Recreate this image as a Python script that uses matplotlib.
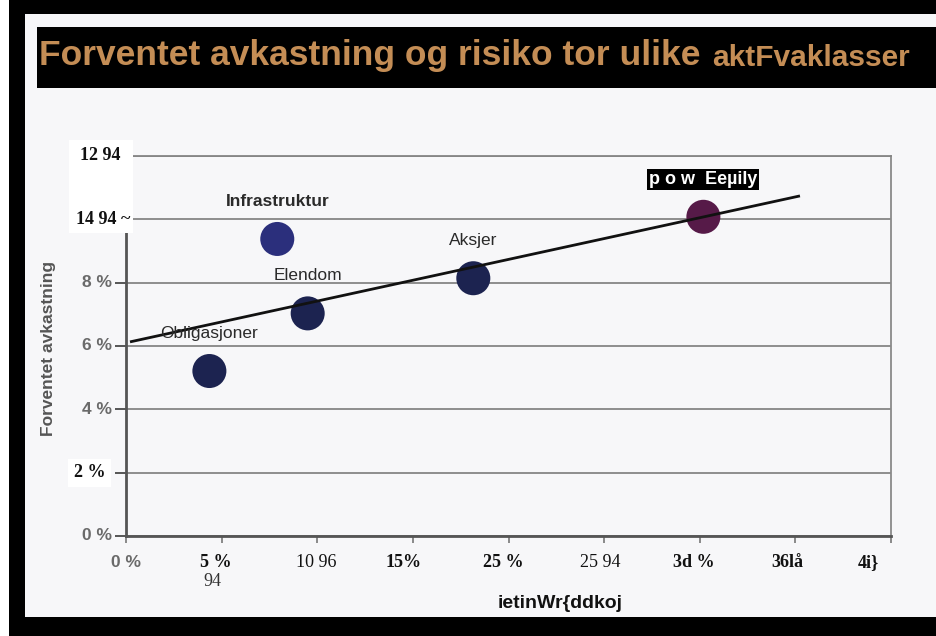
import matplotlib
matplotlib.use("Agg")
import matplotlib.pyplot as plt
from matplotlib import font_manager as fm
from matplotlib.patches import Rectangle

# asset classes: (risk %, expected return %)
classes = ["Obligasjoner", "Infrastruktur", "Elendom", "Aksjer", "p o w  Eeµily"]
risk = [4.36, 7.91, 9.50, 18.16, 30.19]
expected_return = [5.21, 9.38, 7.03, 8.14, 10.08]
point_colors = ["#1c2350", "#2b2f7c", "#1c2350", "#1c2350", "#561a48"]

# trend line end points
trend_x = [0.21, 35.24]
trend_y = [6.13, 10.74]

x_ticks = [0, 5, 10, 15, 20, 25, 30, 35, 40]
x_tick_labels = ["0 %", "5 %", "10 96", "15%", "25 %", "25 94", "3d %", "36lå", "4i}"]
y_ticks = [0, 2, 4, 6, 8, 10, 12]
y_tick_labels = ["0 %", "2 %", "4 %", "6 %", "8 %", "14 94 ~", "12 94"]

title_main = "Forventet avkastning og risiko tor ulike"
title_tail = "aktFvaklasser"
x_title = "ietinWr{ddkoj"
y_title = "Forventet avkastning"

installed = {f.name for f in fm.fontManager.ttflist}


def pick(*names):
    for name in names:
        if name in installed:
            return name
    return "DejaVu Sans"


SANS = pick("Liberation Sans", "Arial", "DejaVu Sans")
SERIF = pick("Liberation Serif", "DejaVu Serif")

W, H = 936, 636
fig = plt.figure(figsize=(W / 100, H / 100), dpi=100)
fig.patch.set_facecolor("#f7f7f9")


def px_box(x0, y0, x1, y1, color, z=0.1):
    fig.add_artist(Rectangle((x0 / W, 1 - y1 / H), (x1 - x0) / W, (y1 - y0) / H,
                             transform=fig.transFigure, facecolor=color,
                             edgecolor="none", zorder=z))


# slide frame and title bar
px_box(0, 0, 9, H, "white")
px_box(9, 0, W, 14, "black")
px_box(9, 0, 25, H, "black")
px_box(9, 617, W, H, "black")
px_box(37, 27, W, 88, "black")

t1 = fig.text(39 / W, 1 - 56 / H, title_main, color="#c48d55", fontsize=25.5,
              fontweight="bold", family=SANS, va="center", ha="left")
fig.canvas.draw()
bb = t1.get_window_extent()
fig.text((bb.x1 + 12) / W, 1 - 58 / H, title_tail, color="#c48d55", fontsize=21.5,
         fontweight="bold", family=SANS, va="center", ha="left")

ax = fig.add_axes([126 / W, 1 - 536 / H, (891 - 126) / W, (536 - 156) / H])
ax.set_facecolor("none")
ax.set_xlim(0, 40)
ax.set_ylim(0, 12)
ax.set_axisbelow(True)
ax.set_yticks(y_ticks)
ax.set_xticks(x_ticks)
ax.set_xticklabels([])
ax.set_yticklabels([])
ax.yaxis.grid(True, color="#858585", lw=1.3)
ax.tick_params(axis="y", length=8, width=1.4, color="#555555")
ax.tick_params(axis="x", length=5, width=1.2, color="#777777")

ax.spines["left"].set_color("#555555")
ax.spines["left"].set_linewidth(2)
ax.spines["left"].set_bounds(0, 9.57)
ax.spines["bottom"].set_color("#555555")
ax.spines["bottom"].set_linewidth(2)
ax.spines["right"].set_color("#8a8a8a")
ax.spines["right"].set_linewidth(1.3)
ax.spines["top"].set_color("#858585")
ax.spines["top"].set_linewidth(1.3)

# white patch over the top of the value axis
ax.add_patch(Rectangle((69 / W, 1 - 233 / H), 64 / W, 93 / H, transform=fig.transFigure,
                       facecolor="white", edgecolor="none", zorder=2.6, clip_on=False))

ax.scatter(risk, expected_return, s=600, c=point_colors, zorder=3, linewidths=0)
ax.plot(trend_x, trend_y, color="#111111", lw=2, zorder=4, solid_capstyle="butt")

label_weight = ["normal", "bold", "normal", "normal", "bold"]
for i, name in enumerate(classes):
    boxed = i == len(classes) - 1
    ax.annotate(name, (risk[i], expected_return[i]), xytext=(0, 27),
                textcoords="offset points", ha="center", va="center",
                fontsize=13 if boxed else 12.5, fontweight=label_weight[i],
                family=SANS, color="white" if boxed else "#2a2a2a", zorder=5,
                bbox=dict(boxstyle="square,pad=0.1", fc="black", ec="none") if boxed else None)

# value-axis labels
y_serif = [False, True, False, False, False, True, True]
y_dx = [-10, -15, -10, -10, -10, 3, -4]
ytrans = ax.get_yaxis_transform()
for val, lab, serif, dx in zip(y_ticks, y_tick_labels, y_serif, y_dx):
    ax.annotate(lab, (0, val), xycoords=ytrans, xytext=(dx, 0), textcoords="offset points",
                ha="right", va="center", fontsize=13 if serif else 12.5,
                family=SERIF if serif else SANS, fontweight="bold",
                color="#111111" if serif else "#6a6a6a", zorder=6, annotation_clip=False,
                bbox=dict(boxstyle="square,pad=0.3", fc="white", ec="none") if val == 2 else None)

# risk-axis labels
x_dx = [0, -4, -1, -7, -4, -3, -4, -6, -16]
x_weight = ["bold", "bold", "normal", "bold", "bold", "normal", "bold", "bold", "bold"]
xtrans = ax.get_xaxis_transform()
for i, (val, lab, dx) in enumerate(zip(x_ticks, x_tick_labels, x_dx)):
    sans = i == 0
    ax.annotate(lab, (val, 0), xycoords=xtrans, xytext=(dx, -19), textcoords="offset points",
                ha="center", va="center", fontsize=12.5 if sans else 13,
                family=SANS if sans else SERIF, fontweight=x_weight[i],
                color="#6a6a6a" if sans else "#111111", annotation_clip=False)
ax.annotate("94", (x_ticks[1], 0), xycoords=xtrans, xytext=(-7, -33), textcoords="offset points",
            ha="center", va="center", fontsize=13, family=SERIF, color="#333333",
            annotation_clip=False)

fig.text(560 / W, 1 - 604 / H, x_title, ha="center", va="center", fontsize=14,
         fontweight="bold", family=SANS, color="#111111")
fig.text(49 / W, 1 - 348 / H, y_title, ha="center", va="center", rotation=90,
         fontsize=12.5, fontweight="bold", family=SANS, color="#555555")

fig.savefig("out.png", dpi=100, facecolor=fig.get_facecolor())
